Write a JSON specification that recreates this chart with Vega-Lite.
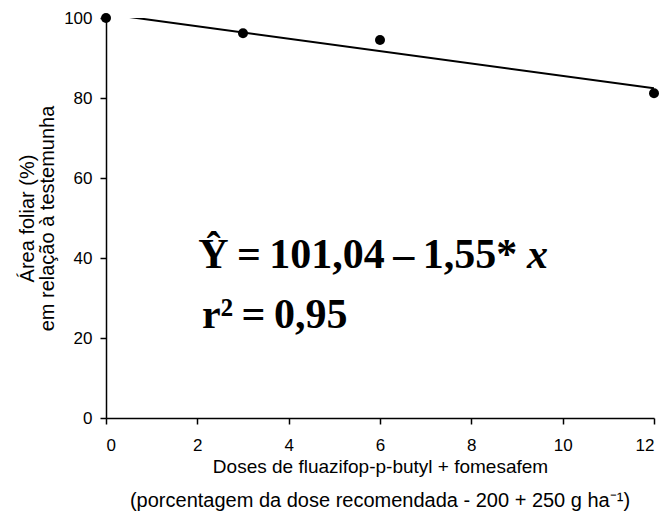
{
  "$schema": "https://vega.github.io/schema/vega-lite/v6.json",
  "width": 548,
  "height": 400,
  "autosize": "none",
  "padding": {"left": 106, "top": 18, "right": 13, "bottom": 97},
  "background": "white",
  "config": {
    "view": {"stroke": null},
    "font": "Liberation Sans",
    "axis": {
      "grid": false,
      "domainColor": "black",
      "domainWidth": 1.5,
      "tickColor": "black",
      "tickWidth": 1.5,
      "tickSize": 6,
      "labelColor": "black",
      "labelFont": "Liberation Sans",
      "labelFontSize": 17,
      "titleColor": "black",
      "titleFont": "Liberation Sans",
      "titleFontSize": 19,
      "titleFontWeight": "normal"
    }
  },
  "title": {
    "text": "(porcentagem da dose recomendada - 200 + 250 g ha⁻¹)",
    "orient": "bottom",
    "font": "Liberation Sans",
    "fontSize": 20,
    "fontWeight": "normal",
    "color": "black",
    "offset": 15
  },
  "datasets": {
    "obs": [
      {"dose": 0, "area": 100},
      {"dose": 3, "area": 96.2},
      {"dose": 6, "area": 94.5},
      {"dose": 12, "area": 81.2}
    ],
    "fit": [
      {"dose": 0, "area": 101.04},
      {"dose": 12, "area": 82.44}
    ],
    "eq": [
      {"dose": 2.02, "area": 37.5, "label": "Ŷ\u2009=\u2009101,04\u2009–\u20091,55*"},
      {"dose": 2.1, "area": 22.5, "label": "r²\u2009=\u20090,95"}
    ],
    "eqx": [
      {"dose": 9.22, "area": 37.5, "label": "x"}
    ]
  },
  "encoding": {
    "x": {
      "field": "dose",
      "type": "quantitative",
      "scale": {"domain": [0, 12], "nice": false, "zero": false},
      "axis": {
        "values": [0, 2, 4, 6, 8, 10, 12],
        "labelPadding": 13,
        "title": "Doses de fluazifop-p-butyl + fomesafem",
        "titlePadding": 4
      }
    },
    "y": {
      "field": "area",
      "type": "quantitative",
      "scale": {"domain": [0, 100], "nice": false},
      "axis": {
        "values": [0, 20, 40, 60, 80, 100],
        "labelPadding": 8,
        "title": ["Área foliar (%)", "em relação à testemunha"],
        "titleFontSize": 20,
        "titleLineHeight": 20,
        "titlePadding": 6
      }
    }
  },
  "layer": [
    {
      "data": {"name": "fit"},
      "mark": {"type": "line", "color": "black", "strokeWidth": 2, "clip": true}
    },
    {
      "data": {"name": "obs"},
      "mark": {"type": "circle", "color": "black", "opacity": 1, "size": 100}
    },
    {
      "data": {"name": "eq"},
      "mark": {
        "type": "text",
        "align": "left",
        "baseline": "alphabetic",
        "font": "Liberation Serif",
        "fontWeight": "bold",
        "fontSize": 42,
        "color": "black"
      },
      "encoding": {"text": {"field": "label"}}
    },
    {
      "data": {"name": "eqx"},
      "mark": {
        "type": "text",
        "align": "left",
        "baseline": "alphabetic",
        "font": "Liberation Serif",
        "fontWeight": "bold",
        "fontStyle": "italic",
        "fontSize": 42,
        "color": "black"
      },
      "encoding": {"text": {"field": "label"}}
    }
  ]
}
